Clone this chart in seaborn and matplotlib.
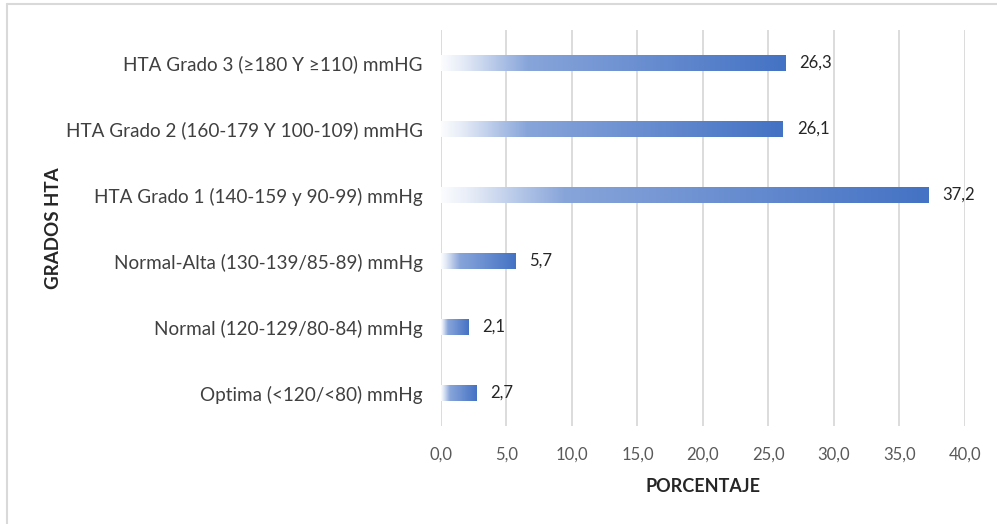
import numpy as np
import pandas as pd
import matplotlib
matplotlib.use("Agg")
import matplotlib.pyplot as plt
import seaborn as sns
from matplotlib.colors import LinearSegmentedColormap
from matplotlib.lines import Line2D

categories = [
    "HTA Grado 3 (≥180 Y ≥110) mmHG",
    "HTA Grado 2 (160-179 Y 100-109) mmHG",
    "HTA Grado 1 (140-159 y 90-99) mmHg",
    "Normal-Alta (130-139/85-89) mmHg",
    "Normal (120-129/80-84) mmHg",
    "Optima (<120/<80) mmHg",
]
values = [26.3, 26.1, 37.2, 5.7, 2.1, 2.7]
xticks = [0, 5, 10, 15, 20, 25, 30, 35, 40]
xlabel = "PORCENTAJE"
ylabel = "GRADOS HTA"

sns.set_theme(style="white")
plt.rcParams['font.family'] = ['Lato', 'DejaVu Sans']

fig = plt.figure(figsize=(9.97, 5.24), dpi=100)
ax = fig.add_axes([0.4423, 0.187, 0.5256, 0.7557])

df = pd.DataFrame({"cat": categories, "val": values})
sns.barplot(data=df, y="cat", x="val", ax=ax, width=0.24, color="#4472C4",
            orient="h", zorder=2)

cmap = LinearSegmentedColormap.from_list(
    "g", [(0, "#FBFCFE"), (0.06, "#E6ECF7"), (0.25, "#88A5DA"), (1, "#4472C4")])
grad = np.linspace(0, 1, 256).reshape(1, -1)
for p in list(ax.patches):
    x0, y0 = p.get_x(), p.get_y()
    w, h = p.get_width(), p.get_height()
    p.set_facecolor('none')
    p.set_edgecolor('none')
    ax.imshow(grad, cmap=cmap, extent=[x0, x0 + w, y0 + h, y0], aspect='auto',
              zorder=2, interpolation='bilinear')

for i, v in enumerate(values):
    ax.annotate(f"{v:.1f}".replace('.', ','), xy=(v, i), xytext=(10, 0),
                textcoords='offset points', va='center', ha='left',
                fontsize=12, color='#262626')

ax.set_xlim(0, 40)
ax.set_ylim(5.5, -0.5)
ax.set_xticks(xticks)
ax.set_xticklabels([f"{t:.1f}".replace('.', ',') for t in xticks])
ax.grid(axis='x', color='#D9D9D9', lw=1.3, zorder=0)
ax.grid(axis='y', visible=False)
for s in ax.spines.values():
    s.set_visible(False)
ax.tick_params(axis='x', length=0, pad=15, labelsize=12, labelcolor='#595959')
ax.tick_params(axis='y', length=0, pad=13, labelsize=13.6, labelcolor='#404040')

ax.set_xlabel(xlabel, fontsize=13, fontweight='bold', color='#262626', labelpad=11)
ax.set_ylabel(ylabel, fontsize=13.5, fontweight='bold', color='#262626')
ax.yaxis.set_label_coords(-0.724, 0.5)

fig.add_artist(Line2D([7/997, 7/997], [0, 1 - 4/524], transform=fig.transFigure,
                      color='#D9D9D9', lw=1.5))
fig.add_artist(Line2D([7/997, 1], [1 - 4/524, 1 - 4/524], transform=fig.transFigure,
                      color='#D9D9D9', lw=1.5))

fig.savefig("out.png", dpi=100)
